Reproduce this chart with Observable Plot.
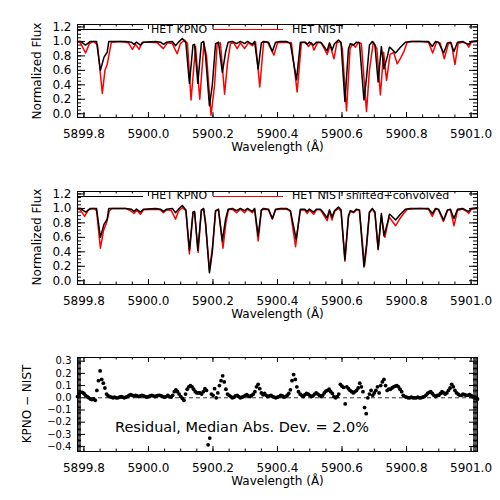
<!DOCTYPE html>
<html><head><meta charset="utf-8">
<script src="https://cdn.jsdelivr.net/npm/d3@7"></script>
<script src="https://cdn.jsdelivr.net/npm/@observablehq/plot@0.6"></script>
<style>
body{margin:0;background:#fff;}
#root{position:relative;width:500px;height:500px;font-family:"DejaVu Sans",sans-serif;color:#000;overflow:hidden;}
.panel{position:absolute;left:0;}
.leg{position:absolute;height:0;border-top:1.5px solid;}
.lt{position:absolute;font-size:11px;line-height:12px;white-space:pre;}
.ann{position:absolute;font-size:14.5px;line-height:16px;white-space:pre;}
.ytitle{position:absolute;font-size:12px;line-height:14px;white-space:pre;transform:translate(-50%,-50%) rotate(-90deg);}
</style></head><body><div id="root"></div>
<script>
// ---------- data ----------
const xTicks = [5899.8, 5900.0, 5900.2, 5900.4, 5900.6, 5900.8, 5901.0];
const fluxTicks = [0.0, 0.2, 0.4, 0.6, 0.8, 1.0, 1.2];
const resTicks = [-0.4, -0.3, -0.2, -0.1, 0.0, 0.1, 0.2, 0.3];

// HET KPNO spectrum [wavelength, normalized flux]
const kpno = [[5899.780,1.0],[5899.789,1.0],[5899.805,0.95],[5899.820,1.0],[5899.839,1.0],[5899.851,0.60],[5899.862,0.78],[5899.872,0.85],[5899.877,1.0],[5899.892,1.0],[5899.929,1.0],[5899.947,0.99],[5899.955,0.96],[5899.963,0.99],[5899.975,0.95],[5899.985,0.99],[5900.022,1.0],[5900.037,0.99],[5900.047,0.96],[5900.056,0.99],[5900.074,1.0],[5900.084,0.94],[5900.093,0.99],[5900.105,1.04],[5900.116,0.98],[5900.127,0.42],[5900.138,0.95],[5900.143,0.96],[5900.153,0.42],[5900.164,0.98],[5900.171,1.0],[5900.177,0.8],[5900.189,0.11],[5900.198,0.4],[5900.208,0.97],[5900.217,0.99],[5900.229,0.57],[5900.239,0.85],[5900.247,0.99],[5900.260,1.0],[5900.273,0.97],[5900.285,1.0],[5900.298,0.97],[5900.307,1.0],[5900.322,0.96],[5900.329,1.0],[5900.340,0.62],[5900.350,0.98],[5900.357,1.0],[5900.372,0.99],[5900.384,0.86],[5900.394,0.99],[5900.409,1.0],[5900.428,1.0],[5900.440,0.97],[5900.459,0.47],[5900.471,0.99],[5900.484,0.99],[5900.492,0.96],[5900.499,0.99],[5900.512,0.95],[5900.521,0.99],[5900.533,0.99],[5900.539,0.96],[5900.554,0.87],[5900.561,0.98],[5900.569,0.88],[5900.577,0.97],[5900.589,1.02],[5900.597,0.98],[5900.609,0.17],[5900.620,0.9],[5900.626,0.97],[5900.636,0.95],[5900.645,0.99],[5900.654,0.98],[5900.668,0.19],[5900.676,0.5],[5900.685,0.95],[5900.694,1.0],[5900.702,0.95],[5900.712,0.44],[5900.722,0.93],[5900.730,0.62],[5900.741,0.8],[5900.747,0.92],[5900.753,0.9],[5900.766,0.84],[5900.781,0.92],[5900.797,0.99],[5900.812,1.0],[5900.843,1.0],[5900.868,1.0],[5900.880,0.93],[5900.890,1.0],[5900.899,0.99],[5900.915,0.84],[5900.927,0.98],[5900.936,0.99],[5900.947,0.86],[5900.958,0.99],[5900.974,1.0],[5900.986,0.97],[5900.993,0.96],[5901.001,1.0],[5901.020,1.01]];

// HET NIST spectrum (unshifted)
const nist = [[5899.780,0.99],[5899.789,0.98],[5899.805,0.84],[5899.817,0.97],[5899.830,1.0],[5899.842,0.95],[5899.857,0.28],[5899.865,0.6],[5899.872,0.68],[5899.879,0.85],[5899.885,0.99],[5899.913,1.0],[5899.938,0.98],[5899.950,0.89],[5899.960,0.96],[5899.971,0.89],[5899.981,0.99],[5900.006,0.99],[5900.028,0.98],[5900.046,0.9],[5900.059,0.98],[5900.074,0.97],[5900.089,0.83],[5900.099,0.97],[5900.112,1.02],[5900.121,0.97],[5900.132,0.19],[5900.146,0.93],[5900.159,0.2],[5900.172,0.97],[5900.180,0.8],[5900.194,-0.02],[5900.205,0.4],[5900.213,0.97],[5900.223,0.98],[5900.236,0.27],[5900.245,0.7],[5900.254,0.97],[5900.264,0.98],[5900.275,0.9],[5900.285,0.98],[5900.298,0.9],[5900.310,0.98],[5900.322,0.94],[5900.332,0.99],[5900.345,0.37],[5900.357,0.99],[5900.369,0.99],[5900.389,0.81],[5900.400,0.98],[5900.425,0.99],[5900.443,0.98],[5900.461,0.3],[5900.474,0.98],[5900.487,0.99],[5900.496,0.93],[5900.505,0.98],[5900.513,0.88],[5900.524,0.98],[5900.536,0.98],[5900.554,0.82],[5900.563,0.95],[5900.575,0.76],[5900.584,0.98],[5900.595,1.0],[5900.601,0.9],[5900.614,0.04],[5900.625,0.9],[5900.632,0.96],[5900.642,0.92],[5900.651,0.99],[5900.660,0.97],[5900.676,0.03],[5900.685,0.6],[5900.697,0.99],[5900.708,0.9],[5900.719,0.26],[5900.729,0.85],[5900.738,0.46],[5900.749,0.82],[5900.760,0.85],[5900.771,0.69],[5900.778,0.74],[5900.792,0.86],[5900.802,0.99],[5900.818,1.0],[5900.843,1.0],[5900.868,0.99],[5900.881,0.84],[5900.893,0.99],[5900.904,0.98],[5900.917,0.76],[5900.930,0.97],[5900.939,0.98],[5900.950,0.68],[5900.960,0.97],[5900.974,0.99],[5900.986,0.97],[5900.993,0.92],[5901.001,0.99],[5901.020,1.0]];

// HET KPNO as shown in the second panel
const kpno2 = [[5899.780,1.0],[5899.789,1.0],[5899.805,0.95],[5899.820,1.0],[5899.839,1.0],[5899.851,0.60],[5899.862,0.78],[5899.872,0.85],[5899.877,1.0],[5899.892,1.0],[5899.929,1.0],[5899.947,0.99],[5899.955,0.96],[5899.963,0.99],[5899.975,0.95],[5899.985,0.99],[5900.022,1.0],[5900.037,0.99],[5900.047,0.96],[5900.056,0.99],[5900.074,1.0],[5900.084,0.94],[5900.093,0.99],[5900.105,1.04],[5900.116,0.98],[5900.127,0.42],[5900.138,0.95],[5900.143,0.96],[5900.153,0.42],[5900.164,0.98],[5900.171,1.0],[5900.177,0.8],[5900.189,0.11],[5900.198,0.4],[5900.208,0.97],[5900.217,0.99],[5900.229,0.55],[5900.239,0.85],[5900.247,0.99],[5900.260,1.0],[5900.273,0.97],[5900.285,1.0],[5900.298,0.97],[5900.307,1.0],[5900.322,0.96],[5900.329,1.0],[5900.340,0.62],[5900.350,0.98],[5900.357,1.0],[5900.372,0.99],[5900.384,0.86],[5900.394,0.99],[5900.409,1.0],[5900.428,1.0],[5900.440,0.97],[5900.458,0.57],[5900.471,0.99],[5900.484,0.99],[5900.492,0.96],[5900.499,0.99],[5900.512,0.95],[5900.521,0.99],[5900.533,0.99],[5900.539,0.96],[5900.554,0.87],[5900.561,0.98],[5900.569,0.88],[5900.577,0.97],[5900.589,1.02],[5900.597,0.98],[5900.609,0.29],[5900.620,0.9],[5900.626,0.97],[5900.636,0.95],[5900.645,0.99],[5900.654,0.98],[5900.668,0.19],[5900.676,0.5],[5900.685,0.95],[5900.694,1.0],[5900.702,0.95],[5900.712,0.44],[5900.722,0.93],[5900.730,0.62],[5900.741,0.8],[5900.747,0.92],[5900.753,0.9],[5900.766,0.84],[5900.781,0.92],[5900.797,0.99],[5900.812,1.0],[5900.843,1.0],[5900.868,1.0],[5900.880,0.93],[5900.890,1.0],[5900.899,0.99],[5900.915,0.84],[5900.927,0.98],[5900.936,0.99],[5900.947,0.86],[5900.958,0.99],[5900.974,1.0],[5900.986,0.97],[5900.993,0.96],[5901.001,1.0],[5901.020,1.01]];

// HET NIST shifted + convolved
const nistConv = [[5899.780,0.99],[5899.789,0.98],[5899.802,0.89],[5899.814,0.98],[5899.830,1.0],[5899.839,0.97],[5899.851,0.45],[5899.861,0.7],[5899.870,0.8],[5899.879,0.97],[5899.888,1.0],[5899.929,1.0],[5899.944,0.97],[5899.955,0.93],[5899.964,0.97],[5899.975,0.92],[5899.985,0.98],[5900.022,0.99],[5900.037,0.98],[5900.046,0.94],[5900.056,0.98],[5900.071,0.97],[5900.084,0.85],[5900.093,0.96],[5900.105,1.01],[5900.116,0.97],[5900.127,0.37],[5900.138,0.93],[5900.143,0.94],[5900.154,0.39],[5900.164,0.97],[5900.171,0.98],[5900.177,0.78],[5900.189,0.15],[5900.198,0.45],[5900.208,0.96],[5900.217,0.98],[5900.231,0.45],[5900.240,0.8],[5900.248,0.98],[5900.260,0.99],[5900.273,0.94],[5900.285,0.99],[5900.298,0.94],[5900.307,0.99],[5900.322,0.94],[5900.329,0.99],[5900.340,0.55],[5900.350,0.97],[5900.357,0.99],[5900.372,0.98],[5900.384,0.85],[5900.394,0.98],[5900.409,0.99],[5900.428,0.99],[5900.440,0.96],[5900.456,0.47],[5900.470,0.97],[5900.484,0.98],[5900.492,0.93],[5900.499,0.98],[5900.512,0.92],[5900.521,0.98],[5900.533,0.98],[5900.539,0.94],[5900.554,0.83],[5900.561,0.96],[5900.569,0.84],[5900.577,0.96],[5900.589,1.0],[5900.597,0.96],[5900.609,0.27],[5900.620,0.88],[5900.626,0.96],[5900.636,0.94],[5900.645,0.98],[5900.654,0.97],[5900.670,0.21],[5900.677,0.5],[5900.685,0.94],[5900.694,0.99],[5900.702,0.93],[5900.712,0.43],[5900.722,0.9],[5900.733,0.6],[5900.741,0.78],[5900.747,0.88],[5900.753,0.84],[5900.766,0.76],[5900.778,0.85],[5900.791,0.93],[5900.803,0.99],[5900.843,1.0],[5900.868,0.99],[5900.880,0.89],[5900.890,0.99],[5900.899,0.98],[5900.914,0.82],[5900.927,0.97],[5900.936,0.98],[5900.947,0.76],[5900.958,0.97],[5900.974,0.99],[5900.986,0.96],[5900.993,0.93],[5901.001,0.99],[5901.020,1.0]];

// Residual KPNO - NIST on a uniform wavelength grid
const resStart = 5899.78, resStep = 0.005;
const residual = [0.01,0.03,0.045,0.045,0.035,0.02,0.01,0.0,-0.01,-0.015,
-0.01,-0.02,0.06,0.14,0.22,0.15,0.12,0.08,0.03,0.015,
0.01,0.005,0.0,0.005,0.0,0.0,0.005,0.01,0.005,0.0,
0.005,0.01,0.02,0.025,0.02,0.015,0.02,0.015,0.01,0.015,
0.02,0.015,0.01,0.005,0.01,0.015,0.02,0.015,0.01,0.015,
0.02,0.02,0.015,0.01,0.005,0.01,0.02,0.01,0.005,0.02,
0.05,0.065,0.05,0.03,0.01,-0.005,-0.02,0.03,0.07,0.09,
0.1,0.09,0.07,0.05,0.04,0.04,0.04,0.03,0.05,0.075,
0.06,-0.385,-0.33,0.03,0.02,0.075,0.0,0.04,0.1,0.14,
0.18,0.13,0.07,0.03,0.02,0.01,0.0,0.005,0.015,0.02,
0.01,0.0,0.005,0.01,0.02,0.025,0.015,0.01,0.02,0.03,
0.05,0.09,0.11,0.075,0.04,0.025,0.035,0.02,0.01,0.015,
0.02,0.01,0.005,0.0,0.005,0.01,0.02,0.015,0.005,0.01,0.02,0.035,
0.065,0.14,0.19,0.15,0.09,0.05,0.03,0.02,
0.01,0.025,0.035,0.03,0.02,0.01,0.015,0.03,0.04,0.03,
0.02,0.01,0.02,0.04,0.055,0.06,0.07,0.05,0.035,0.01,
0.0,0.01,0.03,0.11,0.095,0.085,-0.05,0.09,0.075,0.06,
0.05,0.04,0.05,0.06,0.08,0.12,0.09,0.05,-0.08,-0.13,
0.0,0.03,0.06,0.02,0.04,0.06,0.09,0.04,0.1,0.13,
0.15,0.1,0.06,0.07,0.07,0.08,0.09,0.095,0.1,0.09,
0.07,0.05,0.02,0.01,0.005,0.0,0.0,0.005,0.0,0.0,
0.0,0.005,0.0,0.0,0.005,0.01,0.02,0.035,0.045,0.05,
0.035,0.02,0.01,0.02,0.02,0.035,0.05,0.04,0.03,0.04,
0.06,0.08,0.11,0.09,0.06,0.04,0.03,0.02,0.02,0.03,
0.025,0.02,0.02,0.025,0.02,0.01,0.0,-0.005,-0.01];

// ---------- layout ----------
const X_DOMAIN = [5899.78, 5901.02];
const FLUX_DOMAIN = [-0.052, 1.234];
const RES_DOMAIN = [-0.44, 0.33];
const W = 500, H = 167, ML = 77, MR = 23, MT = 24;
const fmt = d3.format(".1f");
const root = document.getElementById("root");

function ticksMarks(yDomain, fh, yMinor, yMajor) {
  const fw = W - ML - MR;
  const yPer = fh / (yDomain[1] - yDomain[0]);
  const xPer = fw / (X_DOMAIN[1] - X_DOMAIN[0]);
  const xMinor = d3.range(0, 25).map(i => 5899.8 + i * 0.05);
  const [y0, y1] = yDomain, [x0, x1] = X_DOMAIN;
  const st = {stroke: "black", strokeWidth: 1};
  const xt = (t, L) => [
    Plot.ruleX(t, {x: d => d, y1: y0, y2: y0 + L / yPer, ...st}),
    Plot.ruleX(t, {x: d => d, y1: y1, y2: y1 - L / yPer, ...st})
  ];
  const yt = (t, L) => [
    Plot.ruleY(t, {y: d => d, x1: x0, x2: x0 + L / xPer, ...st}),
    Plot.ruleY(t, {y: d => d, x1: x1, x2: x1 - L / xPer, ...st})
  ];
  return [...xt(xMinor, 2.5), ...xt(xTicks, 5), ...yt(yMinor, 4), ...yt(yMajor, 8)];
}

function panel({top, fh, yDomain, yMajor, yMinor, yLabel, ylabX, yFont, marks}) {
  const svg = Plot.plot({
    width: W, height: H,
    marginLeft: ML, marginRight: MR, marginTop: MT, marginBottom: H - MT - fh,
    style: {fontFamily: "DejaVu Sans, sans-serif", fontSize: "12px", background: "white", color: "black", overflow: "visible"},
    x: {domain: X_DOMAIN},
    y: {domain: yDomain},
    marks: [
      ...marks,
      ...ticksMarks(yDomain, fh, yMinor, yMajor),
      Plot.frame({stroke: "black", strokeWidth: 1}),
      Plot.axisX({ticks: xTicks, tickSize: 0, tickPadding: 12, tickFormat: fmt, label: null, fontSize: 12}),
      Plot.axisY({ticks: yMajor, tickSize: 0, tickPadding: 6, tickFormat: fmt, label: null, fontSize: yFont}),
      Plot.text(["Wavelength (Å)"], {text: d => d, frameAnchor: "bottom", dy: 30, lineAnchor: "middle", fontSize: 12})
    ]
  });
  const wrap = document.createElement("div");
  wrap.className = "panel";
  wrap.style.top = top + "px";
  wrap.appendChild(svg);
  root.appendChild(wrap);
  const t = document.createElement("div");
  t.className = "ytitle";
  t.style.left = ylabX + "px";
  t.style.top = (top + MT + fh / 2) + "px";
  t.textContent = yLabel;
  root.appendChild(t);
}

function legend(top, label2) {
  const y = top + MT + 6;
  const add = (cls, css, text) => {
    const e = document.createElement("div");
    e.className = cls; Object.assign(e.style, css);
    if (text) e.textContent = text;
    root.appendChild(e);
  };
  add("leg", {left: "77px", width: "66px", top: (y - 0.75) + "px", borderColor: "black"});
  add("lt", {left: "151px", top: (y - 6.5) + "px"}, "HET KPNO");
  add("leg", {left: "213px", width: "70px", top: (y - 0.75) + "px", borderColor: "#ff0000"});
  add("lt", {left: "292px", top: (y - 6.5) + "px"}, label2);
}

const fluxMinor = d3.range(-1, 25).map(i => i * 0.05);
const resMinor = d3.range(-44, 34).map(i => i * 0.01);
const line = (data, stroke) => Plot.line(data, {x: d => d[0], y: d => d[1], stroke, strokeWidth: 1.5, strokeLinejoin: "round"});

panel({top: 0, fh: 93, yDomain: FLUX_DOMAIN, yMajor: fluxTicks, yMinor: fluxMinor,
  yLabel: "Normalized Flux", ylabX: 37, yFont: 12,
  marks: [line(nist, "#ff0000"), line(kpno, "black")]});
legend(0, "HET NIST");

panel({top: 166.7, fh: 93, yDomain: FLUX_DOMAIN, yMajor: fluxTicks, yMinor: fluxMinor,
  yLabel: "Normalized Flux", ylabX: 37, yFont: 12,
  marks: [line(nistConv, "#ff0000"), line(kpno2, "black")]});
legend(166.7, "HET NIST shifted+convolved");

panel({top: 333, fh: 94, yDomain: RES_DOMAIN, yMajor: resTicks, yMinor: resMinor,
  yLabel: "KPNO \u2212 NIST", ylabX: 27, yFont: 10,
  marks: [
    Plot.ruleY([0], {stroke: "#333", strokeWidth: 1, strokeDasharray: "4,3"}),
    Plot.dot(residual, {x: (d, i) => resStart + i * resStep, y: d => d, r: 1.9, fill: "black", stroke: "none"})
  ]});

const ann = document.createElement("div");
ann.className = "ann";
ann.style.left = "115px"; ann.style.top = "419px";
ann.textContent = "Residual, Median Abs. Dev. = 2.0%";
root.appendChild(ann);
</script>
</body></html>
